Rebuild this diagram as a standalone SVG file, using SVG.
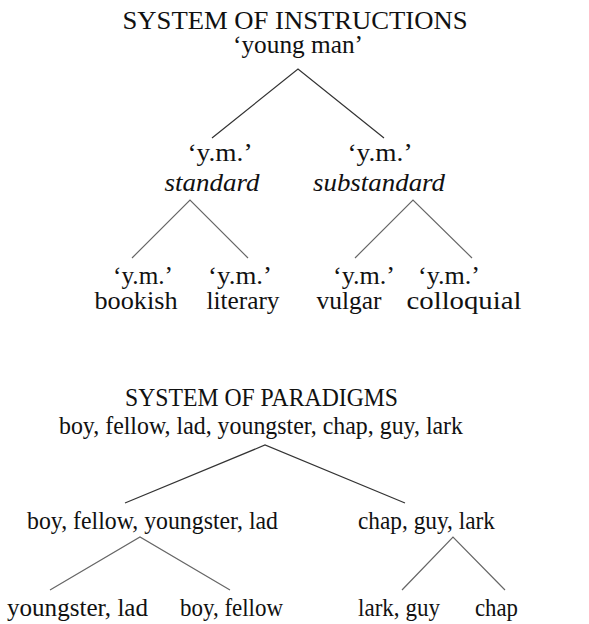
<svg xmlns="http://www.w3.org/2000/svg" width="589" height="624" viewBox="0 0 589 624">
<style>
text{font-family:"Liberation Serif","Times New Roman",serif;font-size:26px;fill:#111;text-anchor:middle}
.it{font-style:italic}
.l1{stroke:#333;stroke-width:1.2;fill:none}
.l2{stroke:#666;stroke-width:1.2;fill:none}
</style>
<rect width="589" height="624" fill="#fff"/>
<g id="connectors">
<path class="l1" d="M212,138 L298,69 L384,138"/>
<path class="l2" d="M132,258 L190,200 L248,258"/>
<path class="l2" d="M355,258 L413,200 L472,258"/>
<path class="l1" d="M125,503 L265,445 L405,503"/>
<path class="l2" d="M50,590 L140,537 L230,590"/>
<path class="l2" d="M402,590 L453,537 L505,590"/>
</g>
<g id="title1"><text x="295" y="29" textLength="345" lengthAdjust="spacingAndGlyphs">SYSTEM OF INSTRUCTIONS</text></g>
<g id="n-root"><text x="298" y="53" textLength="130" lengthAdjust="spacingAndGlyphs">‘young man’</text></g>
<g id="n-standard"><text x="220" y="161" textLength="65" lengthAdjust="spacingAndGlyphs">‘y.m.’</text><text class="it" x="212" y="191" textLength="95" lengthAdjust="spacingAndGlyphs">standard</text></g>
<g id="n-substandard"><text x="380" y="161" textLength="65" lengthAdjust="spacingAndGlyphs">‘y.m.’</text><text class="it" x="379" y="191" textLength="132" lengthAdjust="spacingAndGlyphs">substandard</text></g>
<g id="n-bookish"><text x="143" y="284" textLength="60" lengthAdjust="spacingAndGlyphs">‘y.m.’</text><text x="136" y="309" textLength="83" lengthAdjust="spacingAndGlyphs">bookish</text></g>
<g id="n-literary"><text x="240" y="284" textLength="64" lengthAdjust="spacingAndGlyphs">‘y.m.’</text><text x="243" y="309" textLength="73" lengthAdjust="spacingAndGlyphs">literary</text></g>
<g id="n-vulgar"><text x="364" y="284" textLength="62" lengthAdjust="spacingAndGlyphs">‘y.m.’</text><text x="349" y="309" textLength="65" lengthAdjust="spacingAndGlyphs">vulgar</text></g>
<g id="n-colloquial"><text x="449" y="284" textLength="62" lengthAdjust="spacingAndGlyphs">‘y.m.’</text><text x="464" y="309" textLength="115" lengthAdjust="spacingAndGlyphs">colloquial</text></g>
<g id="title2"><text x="261.5" y="406" textLength="273" lengthAdjust="spacingAndGlyphs">SYSTEM OF PARADIGMS</text></g>
<g id="p-root"><text x="261" y="434" textLength="404" lengthAdjust="spacingAndGlyphs">boy, fellow, lad, youngster, chap, guy, lark</text></g>
<g id="p-left"><text x="152.5" y="529" textLength="251" lengthAdjust="spacingAndGlyphs">boy, fellow, youngster, lad</text></g>
<g id="p-right"><text x="426.5" y="529" textLength="137" lengthAdjust="spacingAndGlyphs">chap, guy, lark</text></g>
<g id="p-youngster"><text x="77.5" y="616" textLength="141" lengthAdjust="spacingAndGlyphs">youngster, lad</text></g>
<g id="p-boy"><text x="231.5" y="616" textLength="103" lengthAdjust="spacingAndGlyphs">boy, fellow</text></g>
<g id="p-lark"><text x="399" y="616" textLength="82" lengthAdjust="spacingAndGlyphs">lark, guy</text></g>
<g id="p-chap"><text x="496.5" y="616" textLength="43" lengthAdjust="spacingAndGlyphs">chap</text></g>
</svg>
